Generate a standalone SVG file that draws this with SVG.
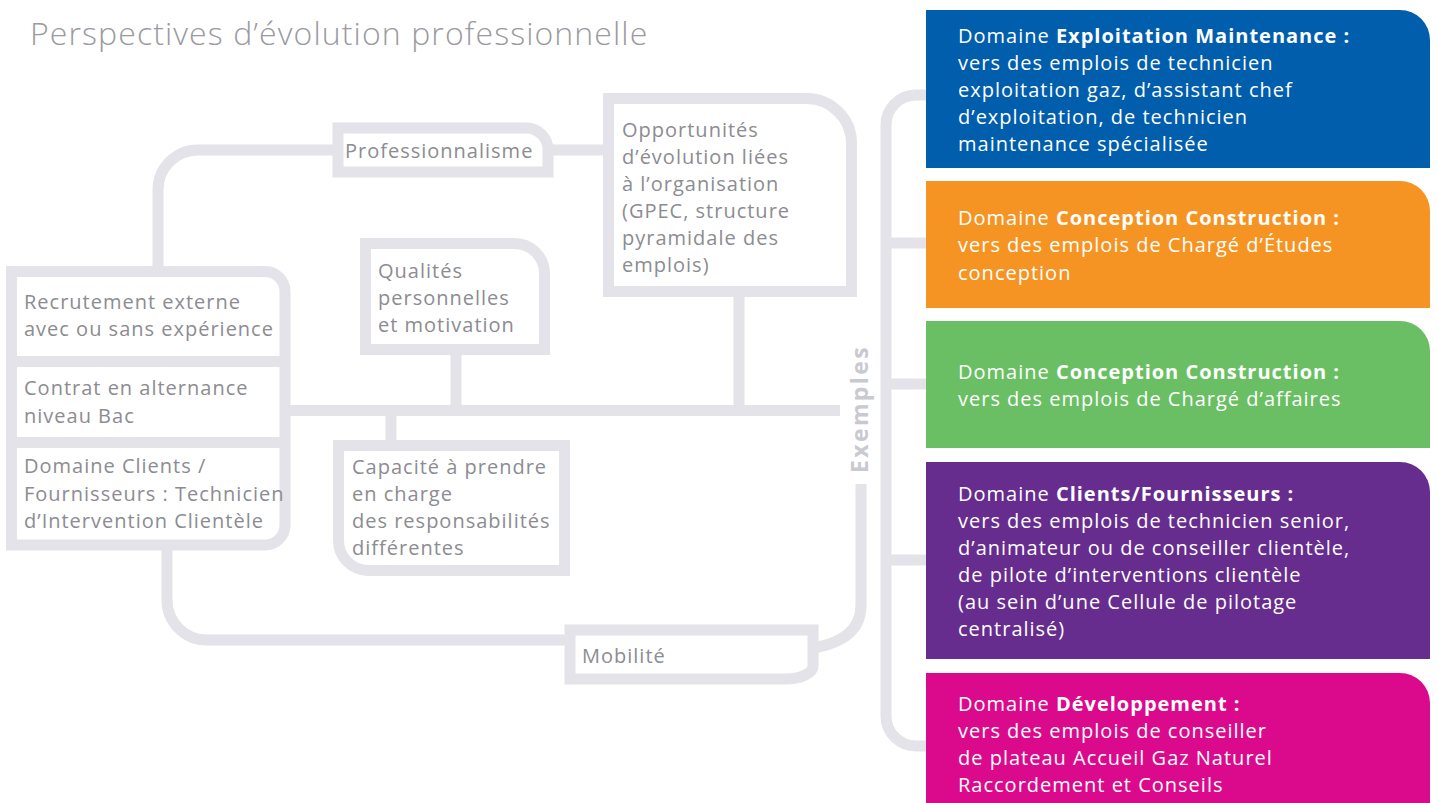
<svg xmlns="http://www.w3.org/2000/svg" width="1438" height="803" viewBox="0 0 1438 803">
<style>
.ln{fill:none;stroke:#E3E3E9;stroke-width:11}
.fr{fill:#fff;stroke:#E3E3E9;stroke-width:11}
.t{font-family:"Open Sans","Liberation Sans",sans-serif;font-size:20px;letter-spacing:1px;fill:#8C8C91}
.w{font-family:"Open Sans","Liberation Sans",sans-serif;font-size:20px;letter-spacing:1px;fill:#fff}
.b{font-weight:700}
.title{font-family:"Open Sans","Liberation Sans",sans-serif;font-size:32px;font-weight:300;letter-spacing:1.1px;fill:#9A9A9F}
.ex{font-family:"Open Sans","Liberation Sans",sans-serif;font-size:23px;font-weight:700;fill:#C9C9D1;letter-spacing:2.4px}
</style>
<rect width="1438" height="803" fill="#fff"/>
<text class="title" x="30" y="45">Perspectives d’évolution professionnelle</text>

<g id="connectors">
<path class="ln" d="M158,266 V190 A40,40 0 0 1 198,150 H338"/>
<path class="ln" d="M548,150 H608"/>
<path class="ln" d="M739,291 V410"/>
<path class="ln" d="M285,410.5 H840"/>
<path class="ln" d="M456,349 V410"/>
<path class="ln" d="M391,410 V445"/>
<path class="ln" d="M167,545 V600 A40,40 0 0 0 207,640 H570"/>
<path class="ln" d="M813,648 Q861,640 861,605 V484"/>
<path class="ln" d="M926,95 H916 A30,30 0 0 0 886,125 V716 A30,30 0 0 0 916,746 H926"/>
<path class="ln" d="M886,243 H926 M886,384 H926 M886,560 H926"/>
</g>

<g id="entree">
<path class="fr" d="M11.5,271.5 H265 A20,20 0 0 1 285,291.5 V525 A20,20 0 0 1 265,545 H11.5 Z"/>
<path class="ln" d="M11,361.5 H285 M11,442.5 H285"/>
<text class="t" x="24" y="309">Recrutement externe</text>
<text class="t" x="24" y="336">avec ou sans expérience</text>
<text class="t" x="24" y="395">Contrat en alternance</text>
<text class="t" x="24" y="423">niveau Bac</text>
<text class="t" x="24" y="473">Domaine Clients /</text>
<text class="t" x="24" y="501">Fournisseurs : Technicien</text>
<text class="t" x="24" y="528">d’Intervention Clientèle</text>
</g>

<g id="professionnalisme">
<path class="fr" d="M338,128 H526 A22,22 0 0 1 548,150 V172 H338 Z"/>
<text class="t" x="345" y="158">Professionnalisme</text>
</g>

<g id="opportunites">
<path class="fr" d="M608.5,98.5 H806 A45,45 0 0 1 851.5,143.5 V291.5 H608.5 Z"/>
<text class="t" x="622" y="137">Opportunités</text>
<text class="t" x="622" y="164">d’évolution liées</text>
<text class="t" x="622" y="191">à l’organisation</text>
<text class="t" x="622" y="218">(GPEC, structure</text>
<text class="t" x="622" y="245">pyramidale des</text>
<text class="t" x="622" y="272">emplois)</text>
</g>

<g id="qualites">
<path class="fr" d="M365.5,243.5 H514 A30,30 0 0 1 544.5,273.5 V349.5 H365.5 Z"/>
<text class="t" x="378" y="278">Qualités</text>
<text class="t" x="378" y="305">personnelles</text>
<text class="t" x="378" y="332">et motivation</text>
</g>

<g id="capacite">
<path class="fr" d="M338.5,445.5 H564.5 V570.5 H368.5 A30,30 0 0 1 338.5,540.5 Z"/>
<text class="t" x="352" y="474">Capacité à prendre</text>
<text class="t" x="352" y="501">en charge</text>
<text class="t" x="352" y="528">des responsabilités</text>
<text class="t" x="352" y="555">différentes</text>
</g>

<g id="mobilite">
<path class="fr" d="M570,630 H813 V666 A28,13 0 0 1 785,679 H570 Z"/>
<text class="t" x="582" y="663">Mobilité</text>
</g>

<g id="exemples">
<text class="ex" transform="translate(868,409) rotate(-90)" text-anchor="middle">Exemples</text>
</g>

<g id="exploitation">
<path fill="#005EAD" d="M926,10 H1400 A30,30 0 0 1 1430,40 V168 H926 Z"/>
<text class="w" x="958" y="43">Domaine <tspan class="b">Exploitation Maintenance :</tspan></text>
<text class="w" x="958" y="70">vers des emplois de technicien</text>
<text class="w" x="958" y="97">exploitation gaz, d’assistant chef</text>
<text class="w" x="958" y="124">d’exploitation, de technicien</text>
<text class="w" x="958" y="151">maintenance spécialisée</text>
</g>

<g id="conception1">
<path fill="#F59423" d="M926,181 H1400 A30,30 0 0 1 1430,211 V308 H926 Z"/>
<text class="w" x="958" y="225">Domaine <tspan class="b">Conception Construction :</tspan></text>
<text class="w" x="958" y="252">vers des emplois de Chargé d’Études</text>
<text class="w" x="958" y="280">conception</text>
</g>

<g id="conception2">
<path fill="#6ABF64" d="M926,321 H1400 A30,30 0 0 1 1430,351 V448 H926 Z"/>
<text class="w" x="958" y="379">Domaine <tspan class="b">Conception Construction :</tspan></text>
<text class="w" x="958" y="406">vers des emplois de Chargé d’affaires</text>
</g>

<g id="clients">
<path fill="#662D8F" d="M926,462 H1400 A30,30 0 0 1 1430,492 V659 H926 Z"/>
<text class="w" x="958" y="501">Domaine <tspan class="b">Clients/Fournisseurs :</tspan></text>
<text class="w" x="958" y="528">vers des emplois de technicien senior,</text>
<text class="w" x="958" y="555">d’animateur ou de conseiller clientèle,</text>
<text class="w" x="958" y="582">de pilote d’interventions clientèle</text>
<text class="w" x="958" y="609">(au sein d’une Cellule de pilotage</text>
<text class="w" x="958" y="636">centralisé)</text>
</g>

<g id="developpement">
<path fill="#DB0A8C" d="M926,673 H1400 A30,30 0 0 1 1430,703 V803 H926 Z"/>
<text class="w" x="958" y="711">Domaine <tspan class="b">Développement :</tspan></text>
<text class="w" x="958" y="738">vers des emplois de conseiller</text>
<text class="w" x="958" y="765">de plateau Accueil Gaz Naturel</text>
<text class="w" x="958" y="792">Raccordement et Conseils</text>
</g>
</svg>
